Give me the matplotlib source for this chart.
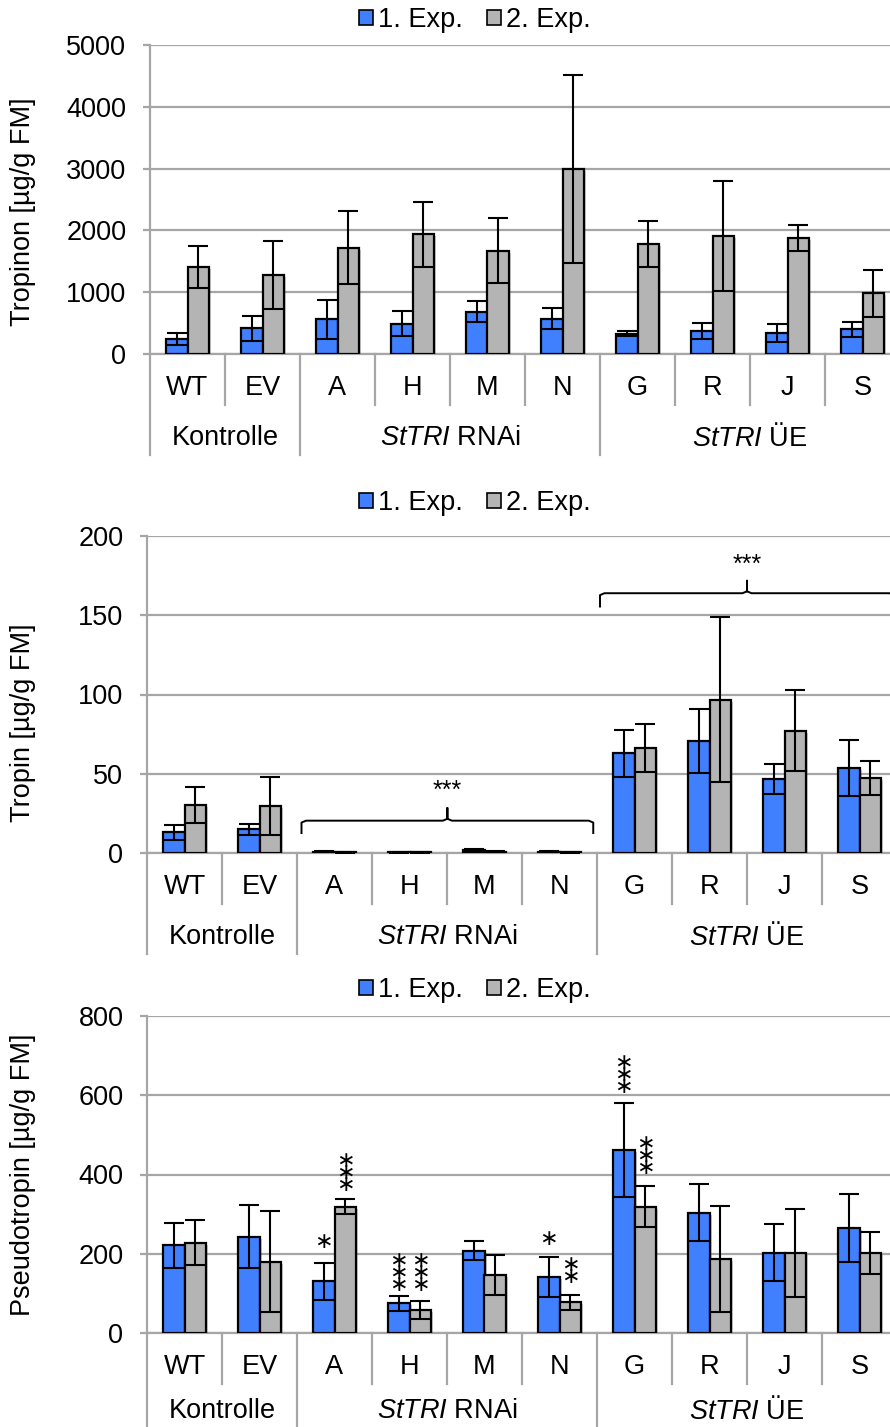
import numpy as np
import matplotlib
matplotlib.use('Agg')
import matplotlib.pyplot as plt
from matplotlib.patches import Patch
import matplotlib.transforms as mtransforms
import matplotlib.patheffects as pe

plt.rcParams['font.family'] = ['Liberation Sans', 'DejaVu Sans']
plt.rcParams['mathtext.fontset'] = 'custom'
plt.rcParams['mathtext.it'] = 'Liberation Sans:italic'
plt.rcParams['mathtext.rm'] = 'Liberation Sans'

#=== Data ===
lines = ["WT", "EV", "A", "H", "M", "N", "G", "R", "J", "S"]
groups = ["Kontrolle", r"$\it{StTRI}$ RNAi", r"$\it{StTRI}$ ÜE"]
group_centers = [0.5, 3.5, 7.5]
group_bounds = [-0.5, 1.5, 5.5, 9.5]
legend_labels = ["1. Exp.", "2. Exp."]

tropinon_1 = [243, 415, 561, 491, 685, 572, 329, 372, 340, 399]
tropinon_1_err = [95, 200, 318, 205, 173, 167, 45, 135, 151, 119]
tropinon_2 = [1402, 1278, 1720, 1936, 1672, 2994, 1775, 1915, 1877, 982]
tropinon_2_err = [340, 556, 594, 524, 523, 1515, 372, 890, 211, 377]

tropin_1 = [13.0, 14.9, 0.8, 0.4, 1.8, 0.9, 63.0, 70.6, 46.6, 53.8]
tropin_1_err = [4.6, 3.4, 0.4, 0.2, 0.6, 0.4, 14.9, 20.2, 9.5, 17.6]
tropin_2 = [30.3, 29.8, 0.6, 0.5, 0.8, 0.5, 66.4, 96.8, 77.1, 47.3]
tropin_2_err = [11.3, 18.3, 0.3, 0.2, 0.3, 0.2, 15.3, 52.3, 25.6, 10.9]

pseudo_1 = [221, 243, 130, 75, 208, 141, 462, 303, 203, 265]
pseudo_1_err = [57, 79, 46, 19, 24, 51, 118, 72, 72, 85]
pseudo_2 = [228, 180, 319, 58, 146, 78, 319, 187, 201, 201]
pseudo_2_err = [56, 128, 18, 22, 51, 19, 52, 134, 111, 53]

# significance for Pseudotropin: (category, series, number of stars, y)
pseudo_sig = [(2, 0, 1, 230), (2, 1, 3, 405), (3, 0, 3, 152),
              (3, 1, 3, 152), (5, 0, 1, 236), (5, 1, 2, 157),
              (6, 0, 3, 652), (6, 1, 3, 446)]
# braces for Tropin: (x from, x to, y, hook end, peak, label y)
tropin_braces = [(1.56, 5.45, 20.4, 12.6, 28.4, 38.9),
                 (5.54, 9.46, 163.9, 155.5, 171.8, 181.7)]

blue = '#4080FF'
grey = '#B4B4B4'
gridc = '#A6A6A6'
fs = 19.5

W, H = 890, 1427
fig = plt.figure(figsize=(W / 100, H / 100), dpi=100)


def make_panel(left, top, bottom, ymax, ystep, v1, e1, v2, e2, ylabel, ylab_y, leg_y,
               group_off=84):
    ax = fig.add_axes([left / W, 1 - bottom / H, 750 / W, (bottom - top) / H])
    hpx = bottom - top
    x = np.arange(len(lines))
    bw = 0.29
    shadow = [pe.SimplePatchShadow(offset=(1.5, -1.5), alpha=0.25), pe.Normal()]
    b1 = ax.bar(x - 0.145, v1, bw, color=blue, edgecolor='black', linewidth=1.6, zorder=3)
    b2 = ax.bar(x + 0.145, v2, bw, color=grey, edgecolor='black', linewidth=1.6, zorder=3)
    for b in list(b1) + list(b2):
        b.set_path_effects(shadow)
    ax.errorbar(x - 0.145, v1, yerr=e1, fmt='none', ecolor='black', elinewidth=1.5,
                capsize=7, capthick=1.5, zorder=4)
    ax.errorbar(x + 0.145, v2, yerr=e2, fmt='none', ecolor='black', elinewidth=1.5,
                capsize=7, capthick=1.5, zorder=4)
    ax.set_xlim(-0.5, 9.5)
    ax.set_ylim(0, ymax)
    ax.set_yticks(np.arange(0, ymax + 1, ystep))
    ax.yaxis.grid(True, color=gridc, linewidth=1.6, zorder=0)
    ax.set_axisbelow(True)
    for s in ['top', 'right']:
        ax.spines[s].set_visible(False)
    ax.spines['left'].set_color(gridc)
    ax.spines['left'].set_linewidth(1.6)
    ax.spines['bottom'].set_color(gridc)
    ax.spines['bottom'].set_linewidth(1.6)
    ax.tick_params(axis='y', length=5, width=1.6, color=gridc, pad=12, labelsize=fs)
    ax.set_xticks([])

    tr = mtransforms.blended_transform_factory(ax.transData, ax.transAxes)
    short = -51 / hpx
    long_ = -101 / hpx
    for b in np.arange(-0.5, 10, 1):
        yb = long_ if b in group_bounds else short
        ax.plot([b, b], [0, yb], color=gridc, linewidth=1.6, transform=tr, clip_on=False)
    for i, name in enumerate(lines):
        ax.text(i, -34 / hpx, name, transform=tr, ha='center', va='center', fontsize=fs)
    for c, g in zip(group_centers, groups):
        ax.text(c, -group_off / hpx, g, transform=tr, ha='center', va='center', fontsize=fs)

    fig.text(23 / W, 1 - ylab_y / H, ylabel, rotation=90, ha='center', va='center', fontsize=fs)
    handles = [Patch(facecolor=blue, edgecolor='black', linewidth=1.2),
               Patch(facecolor=grey, edgecolor='black', linewidth=1.2)]
    fig.legend(handles, legend_labels, loc='center', bbox_to_anchor=(475 / W, 1 - leg_y / H),
               ncol=2, frameon=False, fontsize=fs, handlelength=0.5, handleheight=0.5,
               handletextpad=0.2, columnspacing=0.9)
    return ax


ax1 = make_panel(150, 45, 354, 5000, 1000, tropinon_1, tropinon_1_err, tropinon_2,
                 tropinon_2_err, "Tropinon [µg/g FM]", 212, 20)
ax2 = make_panel(147, 536, 853, 200, 50, tropin_1, tropin_1_err, tropin_2,
                 tropin_2_err, "Tropin [µg/g FM]", 723, 503)
ax3 = make_panel(147, 1016, 1333, 800, 200, pseudo_1, pseudo_1_err, pseudo_2,
                 pseudo_2_err, "Pseudotropin [µg/g FM]", 1175, 990, group_off=78)

# braces on Tropin panel
for x0, x1, yb, yend, ypk, ytxt in tropin_braces:
    xm = (x0 + x1) / 2
    r = 0.06
    xs = [x0, x0, x0 + r, xm - r, xm, xm, xm, xm + r, x1 - r, x1, x1]
    ys = [yend, yb - 1.2, yb, yb, yb + 1.2, ypk, yb + 1.2, yb, yb, yb - 1.2, yend]
    ax2.plot(xs, ys, color='black', linewidth=1.4, clip_on=False, zorder=5)
    ax2.text(xm, ytxt, "***", ha='center', va='center', fontsize=18, clip_on=False)

# stars on Pseudotropin panel (stacked vertically in one text)
for cat, ser, n, y in pseudo_sig:
    xx = cat + (-0.145 if ser == 0 else 0.145)
    ax3.text(xx, y, "\n".join(["\u2217"] * n), ha='center', va='center', fontsize=16,
             family='DejaVu Sans', linespacing=0.5, multialignment='center', zorder=6)

fig.savefig('out.png', dpi=100)
